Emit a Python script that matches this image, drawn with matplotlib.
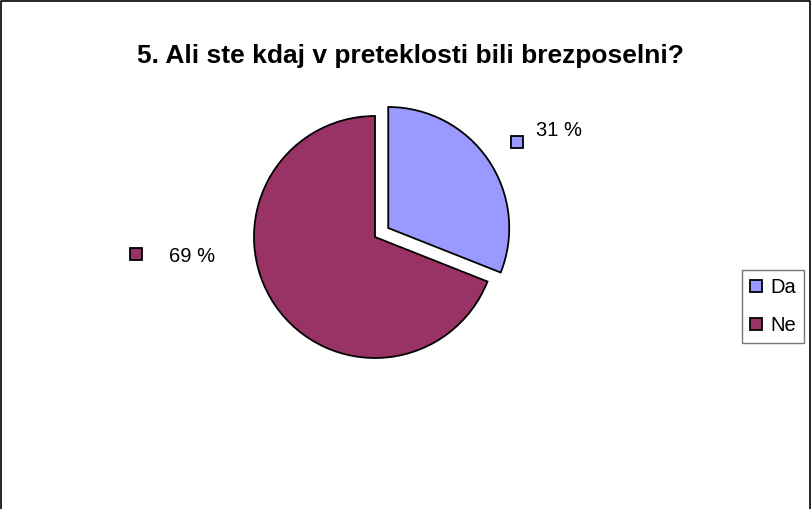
import matplotlib
matplotlib.use("Agg")
import matplotlib.pyplot as plt
from matplotlib.lines import Line2D

plt.rcParams['font.family'] = ['Liberation Sans', 'DejaVu Sans']

title = "5. Ali ste kdaj v preteklosti bili brezposelni?"
categories = ["Da", "Ne"]
values = [31, 69]
colors = ["#9999FF", "#993366"]

W, H = 811, 509
fig = plt.figure(figsize=(W / 100, H / 100), dpi=100)
ax = fig.add_axes([0, 0, 1, 1])

cx, cy, r = 375, H - 237, 121
wedges, _ = ax.pie(values, colors=colors, startangle=90, counterclock=False,
                   explode=[16, 0], center=(cx, cy), radius=r,
                   wedgeprops=dict(edgecolor="black", linewidth=1.3))
ax.set_xlim(0, W)
ax.set_ylim(0, H)
ax.set_aspect("auto")
ax.axis("off")

# figure border
ax.plot([1, 1, W - 1.5, W - 1.5], [0, H - 1, H - 1, 0], color="black", lw=1.2,
        clip_on=False)

fig.text(137 / W, 1 - 63 / H, title, ha="left", va="baseline",
         fontsize=19, fontweight="bold")

# data labels with keys
label_pos = [(536, 130, 517, 141.5), (169, 257, 135.5, 253.5)]
for (tx, ty, mx, my), v, c in zip(label_pos, values, colors):
    ax.text(tx, H - ty, f"{v} %", ha="left", va="center", fontsize=14.5)
    ax.plot([mx], [H - my], marker="s", markersize=8.2, markerfacecolor=c,
            markeredgecolor="black", markeredgewidth=1.3, linestyle="none")

handles = [Line2D([], [], marker="s", markersize=8.2, markerfacecolor=c,
                  markeredgecolor="black", markeredgewidth=1.3, linestyle="none")
           for c in colors]
leg = fig.legend(handles, categories, loc="upper left",
                 bbox_to_anchor=(742 / W, 1 - 270 / H),
                 fontsize=14.5, frameon=True, fancybox=False, handlelength=0.6,
                 handletextpad=0.4, borderpad=0.4, labelspacing=0.94,
                 borderaxespad=0)
leg.get_frame().set_edgecolor("#555555")
leg.get_frame().set_linewidth(1.0)

fig.savefig("out.png", dpi=100)
